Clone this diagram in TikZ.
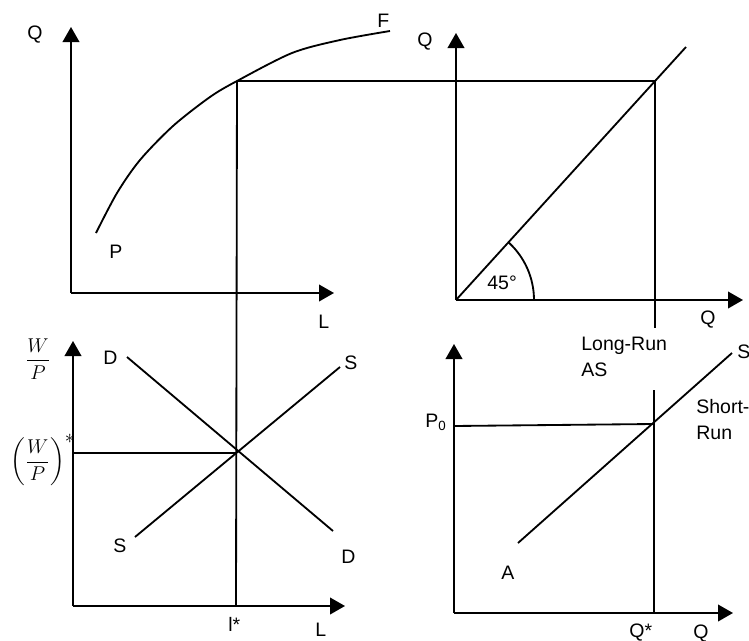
\documentclass[tikz,border=0pt]{standalone}
\usepackage{amsmath}
\usepackage{fontspec}
\setmainfont{Liberation Sans}
\usetikzlibrary{arrows.meta}
\begin{document}
\begin{tikzpicture}[x=0.6pt,y=-0.6pt,
  curve/.style={line width=1.1pt},
  axis/.style={line width=1.1pt,-{Triangle[length=9pt,width=10pt]}},
  lbl/.style={inner sep=0pt, font=\fontsize{11.7}{15.6}\selectfont},
  ml/.style={lbl, align=left, anchor=north west},
]
\useasboundingbox (0,0) rectangle (749,641);
% ---------- axes ----------
\coordinate (O1) at (71,293);  \coordinate (Y1) at (71,27);  \coordinate (X1) at (334,293);
\coordinate (O2) at (456,300); \coordinate (Y2) at (456,33); \coordinate (X2) at (743,300);
\coordinate (O3) at (73,606);  \coordinate (Y3) at (73,341); \coordinate (X3) at (345,606);
\coordinate (O4) at (454,613); \coordinate (Y4) at (454,344); \coordinate (X4) at (733,613);
\draw[axis] (O1) -- (Y1); \draw[axis] (O1) -- (X1);
\draw[axis] (O2) -- (Y2); \draw[axis] (O2) -- (X2);
\draw[axis] (O3) -- (Y3); \draw[axis] (O3) -- (X3);
\draw[axis] (O4) -- (Y4); \draw[axis] (O4) -- (X4);
% ---------- production function ----------
\coordinate (E1) at (237,81);
\draw[curve] plot[smooth] coordinates {(96,233) (117,193) (140,160) (173,126) (210,97) (237,81) (292,53) (340,40) (390,31)};
% ---------- 45 degree panel ----------
\coordinate (C2) at (655,81);
\coordinate (D45) at (686,47);
\draw[curve] (O2) -- (D45);
\draw[curve] (O2) ++(78,0) arc[start angle=0,end angle=47.7,radius=46.8pt];
\draw[curve] (E1) -- (C2);
\coordinate (LRa) at (655,328);
\coordinate (LRb) at (654,390);
\coordinate (QS) at (654,613);
\draw[curve] (C2) -- (LRa);
\draw[curve] (LRb) -- (QS);
% ---------- labour market ----------
\coordinate (LS) at (236,606);
\coordinate (WP) at (73,453);
\coordinate (E3) at (236,453);
\coordinate (Dtop) at (127,357); \coordinate (Dbot) at (333,531);
\coordinate (Sbot) at (135,537); \coordinate (Stop) at (340,367);
\draw[curve] (E1) -- (LS);
\draw[curve] (WP) -- (E3);
\draw[curve] (Dtop) -- (Dbot);
\draw[curve] (Sbot) -- (Stop);
% ---------- AS panel ----------
\coordinate (P0) at (454,426); \coordinate (E4) at (653,424);
\coordinate (Abot) at (518,543); \coordinate (Atop) at (732,353);
\draw[curve] (P0) -- (E4);
\draw[curve] (Abot) -- (Atop);
% ---------- labels ----------
\node[lbl,anchor=base west] (lQ1) at (27,39) {Q};
\node[lbl,anchor=base west] (lP) at (109,258) {P};
\node[lbl,anchor=base west] (lF) at (377,27) {F};
\node[lbl,anchor=base west] (lL1) at (318,328) {L};
\node[lbl,anchor=base west] (lQ2) at (417,46) {Q};
\node[lbl,anchor=base west] (l45) at (487,289) {45°};
\node[lbl,anchor=base west] (lQ3) at (700,324) {Q};
\node[lbl] (lWP) at (38,359) {$\dfrac{W}{P}$};
\node[lbl,anchor=base west] (lWPs) at (10,467) {$\left(\dfrac{W}{P}\right)^{\textstyle *}$};
\node[lbl,anchor=base west] (lD1) at (103,364) {D};
\node[lbl,anchor=base west] (lS1) at (344,369) {S};
\node[lbl,anchor=base west] (lS2) at (113,552) {S};
\node[lbl,anchor=base west] (lD2) at (341,563) {D};
\node[lbl,anchor=base west] (llstar) at (228,631) {l*};
\node[lbl,anchor=base west] (lL2) at (315,636) {L};
\node[lbl,anchor=base west] (lP0) at (425,427) {P\raisebox{-0.35ex}{\fontsize{8}{9}\selectfont 0}};
\node[ml] (lLR) at (581,337) {Long-Run\\AS};
\node[ml] (lSR) at (696,399) {Short-\\Run};
\node[lbl,anchor=base west] (lS3) at (737,358) {S};
\node[lbl,anchor=base west] (lA) at (501,579) {A};
\node[lbl,anchor=base west] (lQs) at (629,637) {Q*};
\node[lbl,anchor=base west] (lQ4) at (693,638) {Q};
\end{tikzpicture}
\end{document}
